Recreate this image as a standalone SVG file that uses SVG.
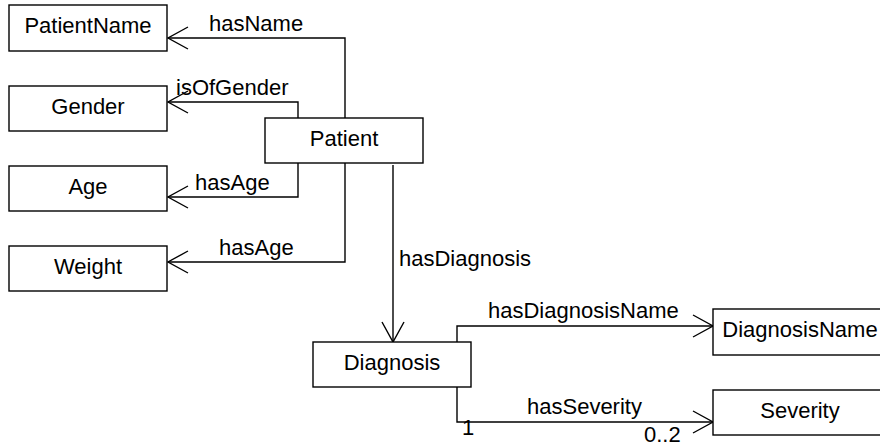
<svg xmlns="http://www.w3.org/2000/svg" width="880" height="446" viewBox="0 0 880 446">
<style>
.box{fill:#fff;stroke:#000;stroke-width:1.4}
.lbl{font-family:"Liberation Sans",Arial,sans-serif;font-size:22px;fill:#000}
.mid{text-anchor:middle}
.conn{fill:none;stroke:#000;stroke-width:1.4;marker-end:url(#arr)}
</style>
<defs>
<marker id="arr" markerUnits="userSpaceOnUse" viewBox="-22 -13 24 26" refX="0" refY="0" markerWidth="24" markerHeight="26" orient="auto" overflow="visible">
<path d="M-20,-11 L0,0 L-20,11" fill="none" stroke="#000" stroke-width="1.4"/>
</marker>
</defs>
<rect width="880" height="446" fill="#fff"/>
<g id="connectors">
<path class="conn" d="M345,118 V38 H168"/>
<path class="conn" d="M298,118 V102 H168"/>
<path class="conn" d="M298,163 V197 H168"/>
<path class="conn" d="M345,163 V262 H168"/>
<path class="conn" d="M393,165 V342"/>
<path class="conn" d="M457,342 V326 H713"/>
<path class="conn" d="M457,387 V422 H713"/>
<text class="lbl" x="209" y="31">hasName</text>
<text class="lbl" x="176" y="95">isOfGender</text>
<text class="lbl" x="195" y="190">hasAge</text>
<text class="lbl" x="219" y="255">hasAge</text>
<text class="lbl" x="399" y="266">hasDiagnosis</text>
<text class="lbl" x="488" y="318">hasDiagnosisName</text>
<text class="lbl" x="527" y="414">hasSeverity</text>
<text class="lbl" x="462" y="435">1</text>
<text class="lbl" x="644" y="442">0..2</text>
</g>
<g id="PatientName"><rect class="box" x="9" y="5" width="158" height="46"/><text class="lbl mid" x="88" y="33">PatientName</text></g>
<g id="Gender"><rect class="box" x="9" y="86" width="158" height="45"/><text class="lbl mid" x="88" y="114">Gender</text></g>
<g id="Age"><rect class="box" x="9" y="166" width="158" height="45"/><text class="lbl mid" x="88" y="194">Age</text></g>
<g id="Weight"><rect class="box" x="9" y="246" width="158" height="45"/><text class="lbl mid" x="88" y="274">Weight</text></g>
<g id="Patient"><rect class="box" x="265" y="118" width="158" height="45"/><text class="lbl mid" x="344" y="146">Patient</text></g>
<g id="Diagnosis"><rect class="box" x="313" y="342" width="158" height="45"/><text class="lbl mid" x="392" y="370">Diagnosis</text></g>
<g id="DiagnosisName"><rect class="box" x="713" y="309" width="175" height="46"/><text class="lbl mid" x="800" y="337">DiagnosisName</text></g>
<g id="Severity"><rect class="box" x="713" y="390" width="175" height="45"/><text class="lbl mid" x="800" y="418">Severity</text></g>
</svg>
